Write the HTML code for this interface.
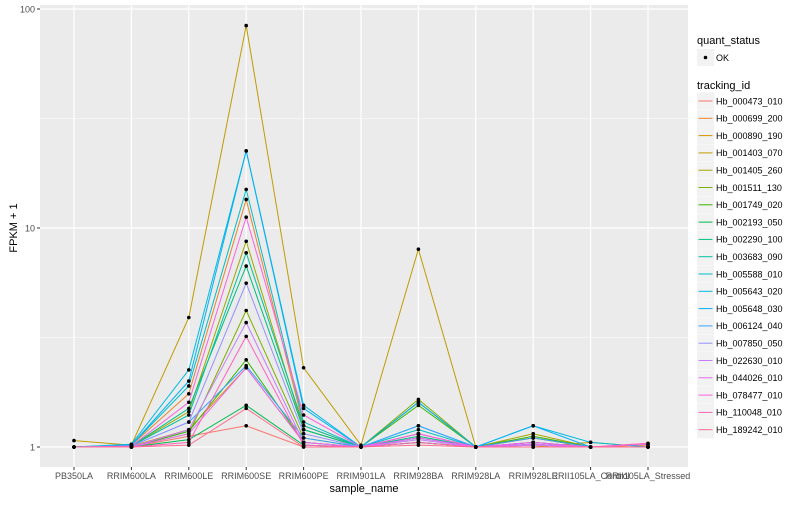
<!DOCTYPE html>
<html><head><meta charset="utf-8">
<style>
body{margin:0;background:#fff;}
svg text{font-family:"Liberation Sans",sans-serif;}
</style></head>
<body>
<svg id="chart" width="800" height="500" xmlns="http://www.w3.org/2000/svg"></svg>
<script>
const categories = ["PB350LA","RRIM600LA","RRIM600LE","RRIM600SE","RRIM600PE","RRIM901LA","RRIM928BA","RRIM928LA","RRIM928LE","RRII105LA_Control","RRII105LA_Stressed"];
const seriesNames = ["Hb_000473_010","Hb_000699_200","Hb_000890_190","Hb_001403_070","Hb_001405_260","Hb_001511_130","Hb_001749_020","Hb_002193_050","Hb_002290_100","Hb_003683_090","Hb_005588_010","Hb_005643_020","Hb_005648_030","Hb_006124_040","Hb_007850_050","Hb_022630_010","Hb_044026_010","Hb_078477_010","Hb_110048_010","Hb_189242_010"];
const seriesColors = ["#F8766D","#EA8331","#D89000","#C09B00","#A3A500","#7CAE00","#39B600","#00BB4E","#00BF7D","#00C1A3","#00BFC4","#00BAE0","#00B0F6","#35A2FF","#9590FF","#C77CFF","#E76BF3","#FA62DB","#FF62BC","#FF6C91"];
const s00 = [1.0,1.0,1.12,1.25,1.0,1.0,1.1,1.0,1.05,1.0,1.0];
const s01 = [1.0,1.02,1.75,13.5,1.25,1.0,1.15,1.0,1.1,1.0,1.02];
const s02 = [1.0,1.01,1.2,2.3,1.05,1.0,1.05,1.0,1.02,1.0,1.0];
const s03 = [1.07,1.02,3.9,84,2.3,1.02,8.0,1.0,1.0,1.05,1.0];
const s04 = [1.0,1.01,1.45,8.7,1.2,1.0,1.6,1.0,1.15,1.0,1.0];
const s05 = [1.0,1.0,1.15,4.2,1.1,1.0,1.65,1.0,1.1,1.0,1.0];
const s06 = [1.0,1.0,1.18,2.5,1.05,1.0,1.55,1.0,1.12,1.0,1.0];
const s07 = [1.0,1.0,1.08,1.55,1.02,1.0,1.05,1.0,1.0,1.0,1.0];
const s08 = [1.0,1.01,1.5,6.7,1.2,1.0,1.12,1.0,1.05,1.0,1.0];
const s09 = [1.0,1.01,1.4,7.7,1.25,1.0,1.1,1.0,1.03,1.0,1.0];
const s10 = [1.0,1.02,1.9,15,1.3,1.0,1.2,1.0,1.05,1.0,1.0];
const s11 = [1.0,1.03,2.25,22.5,1.55,1.0,1.25,1.0,1.25,1.05,1.0];
const s12 = [1.0,1.02,2.0,22.5,1.5,1.0,1.6,1.0,1.25,1.0,1.0];
const s13 = [1.0,1.01,1.3,2.35,1.1,1.0,1.25,1.0,1.1,1.0,1.0];
const s14 = [1.0,1.01,1.3,5.6,1.15,1.0,1.15,1.0,1.05,1.0,1.0];
const s15 = [1.0,1.0,1.2,3.7,1.05,1.0,1.08,1.0,1.02,1.0,1.0];
const s16 = [1.0,1.0,1.15,2.3,1.05,1.0,1.1,1.0,1.03,1.0,1.03];
const s17 = [1.0,1.01,1.6,11.2,1.4,1.0,1.15,1.0,1.05,1.0,1.0];
const s18 = [1.0,1.0,1.05,3.2,1.02,1.0,1.05,1.0,1.0,1.0,1.04];
const s19 = [1.0,1.0,1.02,1.5,1.0,1.0,1.02,1.0,1.0,1.0,1.0];
const seriesValues = [s00,s01,s02,s03,s04,s05,s06,s07,s08,s09,s10,s11,s12,s13,s14,s15,s16,s17,s18,s19];
const yTicks = [1,10,100];
const yMinorTicks = [Math.sqrt(10),Math.sqrt(1000)];

const NS="http://www.w3.org/2000/svg";
const svg=document.getElementById('chart');
const P={l:40,r:688,t:5,b:467};
function x(i){return 74+i*57.4;}
function y(v){return 447-Math.log10(v)*219;}
function el(tag,attrs,parent){const e=document.createElementNS(NS,tag);for(const k in attrs)e.setAttribute(k,attrs[k]);(parent||svg).appendChild(e);return e;}

const panel=el('rect',{x:P.l,y:P.t,width:P.r-P.l,height:P.b-P.t,fill:'#EBEBEB'});


yMinorTicks.forEach(v=>{el('line',{x1:P.l,x2:P.r,y1:y(v),y2:y(v),stroke:'#fff','stroke-width':0.6});});
yTicks.forEach(v=>{
  const g=el('line',{x1:P.l,x2:P.r,y1:y(v),y2:y(v),stroke:'#fff','stroke-width':1.2});
  
  
  el('line',{x1:P.l-3,x2:P.l,y1:y(v),y2:y(v),stroke:'#333'});
  const t=el('text',{x:P.l-5,y:y(v)+3.5,'text-anchor':'end','font-size':9,fill:'#4D4D4D'});
  t.textContent=v;
  
  
});
categories.forEach((c,i)=>{
  el('line',{x1:x(i),x2:x(i),y1:P.t,y2:P.b,stroke:'#fff','stroke-width':1.2});
  el('line',{x1:x(i),x2:x(i),y1:P.b,y2:P.b+3,stroke:'#333'});
  const t=el('text',{x:x(i),y:P.b+12,'text-anchor':'middle','font-size':9,fill:'#4D4D4D'});
  t.textContent=c;
  
  
});
seriesValues.forEach((vals,si)=>{
  const pl=el('polyline',{points:vals.map((v,i)=>x(i)+','+y(v)).join(' '),fill:'none',stroke:seriesColors[si],'stroke-width':1});
  
  
});
seriesValues.forEach((vals,si)=>{
  vals.forEach((v,i)=>{
    const c=el('circle',{cx:x(i),cy:y(v),r:1.8,fill:'#000'});
    
    
  });
});
const xt=el('text',{x:(P.l+P.r)/2,y:492,'text-anchor':'middle','font-size':11,fill:'#000'});
xt.textContent='sample_name';


const yt=el('text',{x:17,y:228,'text-anchor':'middle','font-size':11,fill:'#000',transform:'rotate(-90 17 228)'});
yt.textContent='FPKM + 1';



const qt=el('text',{x:697,y:44,'font-size':11,fill:'#000'});
qt.textContent='quant_status';


el('rect',{x:697,y:49,width:17,height:17,fill:'#F2F2F2'});
el('circle',{cx:705.5,cy:57.5,r:1.8,fill:'#000'});
const ok=el('text',{x:716,y:61,'font-size':9,fill:'#000'});
ok.textContent='OK';


const tt=el('text',{x:697,y:89,'font-size':11,fill:'#000'});
tt.textContent='tracking_id';


seriesNames.forEach((n,i)=>{
  const cy=101+i*17.3;
  el('rect',{x:697,y:cy-8.5,width:17,height:17,fill:'#F2F2F2'});
  el('line',{x1:698.5,x2:712.5,y1:cy,y2:cy,stroke:seriesColors[i],'stroke-width':1});
  const t=el('text',{x:716,y:cy+3.3,'font-size':9,fill:'#000'});
  t.textContent=n;
  
  
});
</script>
</body></html>
